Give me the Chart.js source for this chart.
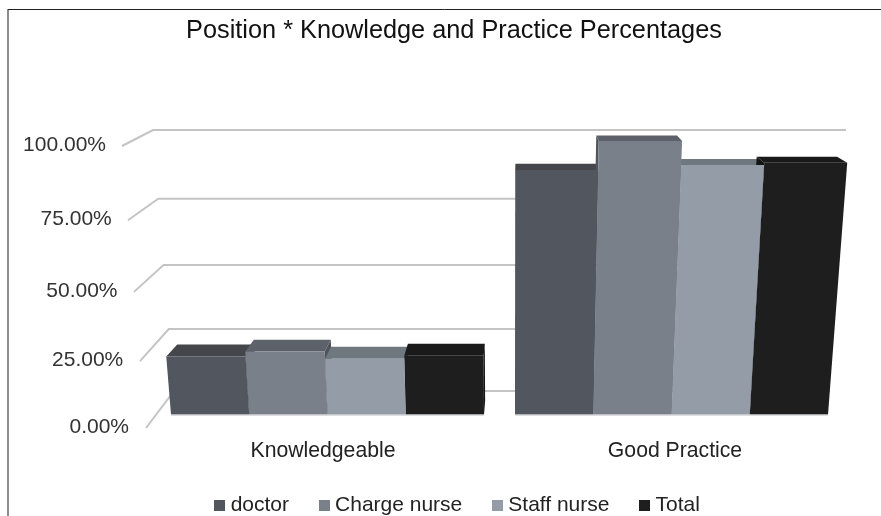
<!DOCTYPE html>
<html><head><meta charset="utf-8">
<style>html,body{margin:0;padding:0;background:#fff}#w{position:absolute;left:0;top:0;width:881px;height:516px}</style>
<script src="https://cdn.jsdelivr.net/npm/chart.js@4"></script>
</head><body><div id="w"><canvas id="c" width="881" height="516"></canvas></div>
<script>
const categories = ["Knowledgeable", "Good Practice"];
const seriesNames = ["doctor", "Charge nurse", "Staff nurse", "Total"];
const doctorValues = [21.2, 89.4];
const chargeNurseValues = [23, 100];
const staffNurseValues = [20.4, 91.2];
const totalValues = [21.5, 92];
const yTickValues = [0, 25, 50, 75, 100];

const frontColors = ["#52575f", "#7a808a", "#939ca7", "#1e1e1e"];
const topColors = ["#45464b", "#5d6169", "#70787f", "#1a1a1a"];
const sideColors = ["#3c3f45", "#4f535b", "#6a727a", "#141414"];
const VX = 520, VY = -30, DEPTH = 0.031, SLANT_X = 510, SLANT = 0.00024, PC = -0.0667;
const lerp = (a, b, t) => a + (b - a) * t;
// perspective interpolation between y at 0% and y at 100%
const persp = (y0, y1, t) => ((y1 * (1 + PC) - y0) * t + y0) / (PC * t + 1);
const xLabelShift = [-4.5, 3.5];

function faceCorners(el) {
  const half = el.width / 2, l = el.x - half, r = el.x + half, h = el.base - el.y;
  const tx = x => x + (x - SLANT_X) * SLANT * h;
  return {bl: [l, el.base], br: [r, el.base], tl: [tx(l), el.y], tr: [tx(r), el.y]};
}
const back = p => [p[0] + (VX - p[0]) * DEPTH, p[1] + (VY - p[1]) * DEPTH];
function poly(ctx, pts, fill) {
  ctx.beginPath();
  pts.forEach((p, i) => i ? ctx.lineTo(p[0], p[1]) : ctx.moveTo(p[0], p[1]));
  ctx.closePath();
  ctx.fillStyle = fill;
  ctx.fill();
}

const bars3d = {
  id: "bars3d",
  afterLayout(chart) {
    chart.scales.y.left = 0;
    chart.scales.x.bottom = 516;
    const lg = chart.legend;
    lg.top = 460;
    lg.bottom = 548;
    lg.left += 5.5;
    lg.right += 5.5;
    lg.adjustHitBoxes();
  },
  afterUpdate(chart) {
    chart.data.datasets.forEach((ds, di) => {
      chart.getDatasetMeta(di).data.forEach(el => {
        el.draw = function (ctx) {
          const c = faceCorners(this);
          poly(ctx, [c.tl, c.tr, c.br, c.bl], frontColors[di]);
          ctx.strokeStyle = "#bdbfc2"; ctx.lineWidth = 1;
          ctx.beginPath(); ctx.moveTo(c.bl[0], c.bl[1] + .5); ctx.lineTo(c.br[0], c.br[1] + .5); ctx.stroke();
        };
      });
    });
  },
  beforeDraw(chart) {
    const ctx = chart.ctx, y = chart.scales.y, x = chart.scales.x;
    ctx.save();
    ctx.strokeStyle = "#666"; ctx.lineWidth = 1.5;
    ctx.beginPath(); ctx.moveTo(8, 9); ctx.lineTo(8, 516); ctx.stroke();
    ctx.strokeStyle = "#222"; ctx.lineWidth = 1;
    ctx.beginPath(); ctx.moveTo(8, 9.5); ctx.lineTo(881, 9.5); ctx.stroke();
    ctx.restore();
    y.getLabelItems().forEach((it, i) => {
      const t = y.ticks[i].value / 100;
      it.options.textAlign = "right";
      it.options.translation = [lerp(129, 106, t), persp(427, 145, t)];
    });
    x.getLabelItems().forEach((it, i) => {
      it.options.textAlign = "center";
      it.options.textBaseline = "middle";
      it.textOffset = 0;
      it.options.translation = [x.getPixelForTick(i) + xLabelShift[i], 451];
    });
  },
  beforeDatasetsDraw(chart) {
    const ctx = chart.ctx, y = chart.scales.y;
    ctx.save();
    ctx.strokeStyle = "#c4c4c4"; ctx.lineWidth = 2; ctx.lineJoin = "miter";
    y.ticks.forEach(tk => {
      const t = tk.value / 100, wy = persp(391, 130, t);
      ctx.beginPath();
      ctx.moveTo(lerp(146, 122, t), persp(428, 146, t));
      ctx.lineTo(lerp(174, 153, t), wy);
      ctx.lineTo(lerp(830, 846, t), wy);
      ctx.stroke();
    });
    chart.data.datasets.forEach((ds, di) => {
      chart.getDatasetMeta(di).data.forEach(el => {
        const c = faceCorners(el);
        const edge = el.x < VX ? [c.tr, c.br] : [c.tl, c.bl];
        poly(ctx, [edge[0], back(edge[0]), back(edge[1]), edge[1]], sideColors[di]);
        poly(ctx, [c.tl, c.tr, back(c.tr), back(c.tl)], topColors[di]);
      });
    });
    ctx.restore();
  }
};

const swatch = color => {
  const s = document.createElement("canvas");
  s.width = 11; s.height = 11;
  const g = s.getContext("2d");
  g.fillStyle = color; g.fillRect(0, 0, 11, 11);
  return s;
};
const seriesValues = [doctorValues, chargeNurseValues, staffNurseValues, totalValues];
const FONT = "'Liberation Sans', Arial, sans-serif";

new Chart(document.getElementById("c"), {
  type: "bar",
  plugins: [bars3d],
  data: {
    labels: categories,
    datasets: seriesNames.map((n, i) => ({
      label: n, data: seriesValues[i], yAxisID: "yBar", clip: false,
      backgroundColor: frontColors[i],
      categoryPercentage: 0.91, barPercentage: 1
    }))
  },
  options: {
    responsive: false, animation: false,
    layout: {padding: {left: 64.5, right: 37.5, top: 0, bottom: 0}},
    scales: {
      x: {
        grid: {display: false}, border: {display: false},
        afterFit: s => { s.height = 23; },
        ticks: {font: {family: FONT, size: 21.2}, color: "#222", maxRotation: 0}
      },
      y: {
        position: "left", min: 0, max: 105.67,
        grid: {display: false}, border: {display: false},
        afterFit: s => { s.width = 91; },
        afterBuildTicks: s => { s.ticks = yTickValues.map(v => ({value: v})); },
        ticks: {font: {family: FONT, size: 21}, color: "#333",
          callback: v => v.toFixed(2) + "%"}
      },
      yBar: {display: false, min: -4.74, max: 104}
    },
    plugins: {
      title: {
        display: true, text: "Position * Knowledge and Practice Percentages",
        font: {family: FONT, size: 25.3, weight: "normal"}, color: "#111",
        padding: {top: 15.8, bottom: 83.8}
      },
      legend: {
        position: "bottom",
        labels: {
          font: {family: FONT, size: 21}, color: "#222",
          usePointStyle: true, pointStyleWidth: 1, boxHeight: 11, padding: 34.5,
          generateLabels: chart =>
            Chart.defaults.plugins.legend.labels.generateLabels(chart).map((it, i) => {
              it.pointStyle = swatch(frontColors[i]);
              return it;
            })
        }
      },
      tooltip: {enabled: false}
    }
  }
});
</script></body></html>
